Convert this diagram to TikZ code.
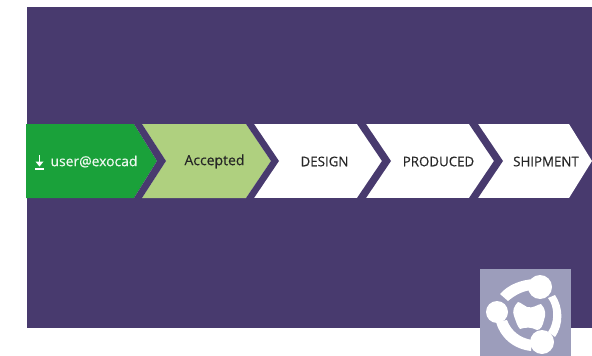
\documentclass[tikz,border=0pt]{standalone}
\usepackage{fontspec}
\setmainfont[FakeBold=0.35]{Open Sans}
\definecolor{bgp}{HTML}{483A6E}
\definecolor{grn}{HTML}{1AA13A}
\definecolor{lgrn}{HTML}{AFD07F}
\definecolor{logoc}{HTML}{9C9DBB}
\definecolor{txt}{HTML}{262626}
\tikzset{
  steplabel/.style={font=\fontsize{13.3}{16}\selectfont,text=txt,inner sep=0pt,anchor=center},
  chev/.style={fill=bgp,draw=none},
}
\begin{document}
\begin{tikzpicture}[x=1pt,y=-1pt]
\useasboundingbox (0,0) rectangle (592,356);
\fill[white] (0,0) rectangle (592,356);
% background panel
\fill[bgp] (27,7) rectangle (592,327.5);
% chevron strip
\fill[white] (26,124) rectangle (569,198);
\fill[white] (569,124) -- (592,161) -- (569,198) -- cycle;
\fill[grn] (26,124) -- (134,124) -- (157,161) -- (134,198) -- (26,198) -- cycle;
\fill[lgrn] (142,124) -- (246,124) -- (271,161) -- (246,198) -- (142,198) -- (166,161) -- cycle;
\fill[chev] (134,124) -- (142,124) -- (166,161) -- (142,198) -- (134,198) -- (157,161) -- cycle;
\fill[chev] (246,124) -- (254,124) -- (279,161) -- (254,198) -- (246,198) -- (271,161) -- cycle;
\fill[chev] (357,124) -- (366,124) -- (391,161) -- (366,198) -- (357,198) -- (382,161) -- cycle;
\fill[chev] (469,124) -- (478,124) -- (503,161) -- (478,198) -- (469,198) -- (494,161) -- cycle;
% download icon
\draw[white,line width=1.4pt] (39.5,155) -- (39.5,165);
\fill[white] (35.5,161.5) -- (43.5,161.5) -- (39.5,166.5) -- cycle;
\fill[white] (35,168.3) rectangle (44,170);
% labels
\node[steplabel,font=\fontsize{13.9}{16}\selectfont,text=white!92!grn] (user) at (94,161.5) {user@exocad};
\node[steplabel,font=\fontsize{14}{16}\selectfont] (accepted) at (214.5,161.5) {Accepted};
\node[steplabel] (design) at (324.5,161.5) {DESIGN};
\node[steplabel] (produced) at (438.5,161.5) {PRODUCED};
\node[steplabel] (shipment) at (546,161.5) {SHIPMENT};
% logo
\fill[logoc] (480,269) rectangle (571,356);
\fill[white] (500,294) .. controls (508,285) and (520,280) .. (534,279) -- (534,290) .. controls (524,290) and (515,295) .. (508,301) -- cycle;
\fill[white] (496,322) .. controls (500,337) and (513,349) .. (531,351) -- (532,340) .. controls (520,338) and (511,331) .. (507,320) -- cycle;
\fill[white] (555,295) .. controls (563,307) and (564,324) .. (555,337) -- (548,332) .. controls (555,322) and (555,307) .. (548,298) -- cycle;
\fill[white] (540,287) circle[radius=12];
\fill[white] (497,312) circle[radius=11];
\fill[white] (542,342) circle[radius=12];
\fill[white] (518,302) .. controls (522,303) and (524,306) .. (527,307)
  .. controls (533,309) and (538,304) .. (541,304)
  .. controls (546,309) and (546,315) .. (544,320)
  .. controls (543,325) and (541,330) .. (537,330)
  .. controls (531,327) and (526,327) .. (520,329)
  .. controls (517,326) and (516,321) .. (514,316)
  .. controls (512,311) and (514,306) .. (518,302) -- cycle;
\end{tikzpicture}
\end{document}
